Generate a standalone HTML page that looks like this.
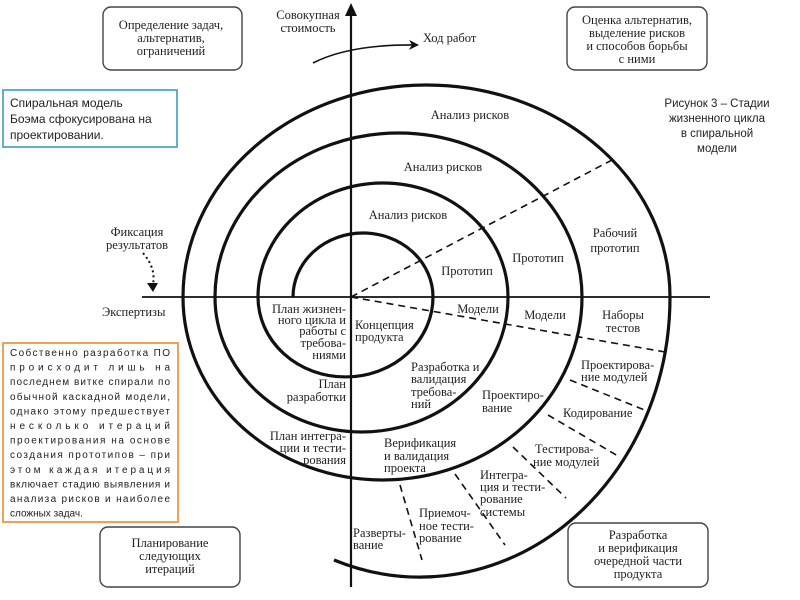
<!DOCTYPE html>
<html><head><meta charset="utf-8"><style>
html,body{margin:0;padding:0;background:#fff;}
svg{display:block;}
.s{font-family:"Liberation Serif","DejaVu Serif",serif;font-size:12.5px;fill:#222;}
.a{font-family:"Liberation Sans","DejaVu Sans",sans-serif;fill:#222;}
</style></head><body>
<svg width="800" height="600" viewBox="0 0 800 600" xmlns="http://www.w3.org/2000/svg">
<defs>
<marker id="ah" markerWidth="10" markerHeight="10" refX="8" refY="5" orient="auto" markerUnits="userSpaceOnUse">
<path d="M0,0 L10,5 L0,10 L3,5 Z" fill="#111"/></marker>
</defs>
<line x1="351" y1="587" x2="351" y2="14" stroke="#111" stroke-width="2.2"/>
<path d="M345,16 L351,3 L357,16 Z" fill="#111"/>
<line x1="142" y1="297" x2="710" y2="297" stroke="#111" stroke-width="1.8"/>
<path d="M293,297 A70,64 0 0 1 433,297 A87.5,80 0 0 1 258,297 A125,114 0 0 1 508,297 A146.5,135 0 0 1 215,297 A183.5,164 0 0 1 582,297 A199.5,183 0 0 1 183,297 A243.5,212 0 0 1 670,297 A250,280 0 0 1 334,560" fill="none" stroke="#111" stroke-width="3.2"/>
<g stroke="#111" stroke-width="1.6" stroke-dasharray="7,5" fill="none">
<line x1="351" y1="297" x2="612" y2="160"/>
<line x1="351" y1="297" x2="665" y2="352"/>
<line x1="570" y1="380" x2="647" y2="411"/>
<line x1="548" y1="415" x2="618" y2="456"/>
<line x1="513" y1="447" x2="566" y2="498"/>
<line x1="455" y1="474" x2="505" y2="545"/>
<line x1="400" y1="485" x2="422" y2="560"/>
</g>
<path d="M313,63 Q350,44 417,45" fill="none" stroke="#111" stroke-width="1.6" marker-end="url(#ah)"/>
<path d="M143,253 Q156,268 153,284" fill="none" stroke="#111" stroke-width="2" stroke-dasharray="2,3"/>
<path d="M147,283 L153,292 L158,283 Z" fill="#111"/>
<g fill="none" stroke="#444" stroke-width="1.4">
<rect x="103" y="7" width="139" height="63" rx="8"/>
<rect x="567" y="7" width="140" height="63" rx="8"/>
<rect x="100" y="527" width="140" height="60" rx="8"/>
<rect x="568" y="523" width="140" height="64" rx="8"/>
</g>
<rect x="3" y="90" width="174" height="57" fill="#fff" stroke="#5fb0c8" stroke-width="2"/>
<rect x="3" y="343" width="175" height="179" fill="#fff" stroke="#f0a058" stroke-width="2"/>
<g class="s" text-anchor="middle">
<text x="171" y="29">Определение задач,</text>
<text x="171" y="42">альтернатив,</text>
<text x="171" y="55">ограничений</text>
<text x="637" y="24">Оценка альтернатив,</text>
<text x="637" y="37">выделение рисков</text>
<text x="637" y="50">и способов борьбы</text>
<text x="637" y="63">с ними</text>
<text x="170" y="547">Планирование</text>
<text x="170" y="560">следующих</text>
<text x="170" y="573">итераций</text>
<text x="638" y="539">Разработка</text>
<text x="638" y="552">и верификация</text>
<text x="638" y="565">очередной части</text>
<text x="638" y="578">продукта</text>
<text x="308" y="19">Совокупная</text>
<text x="308" y="32">стоимость</text>
<text x="137" y="236">Фиксация</text>
<text x="137" y="249">результатов</text>
<text x="470" y="119">Анализ рисков</text>
<text x="443" y="171">Анализ рисков</text>
<text x="408" y="219">Анализ рисков</text>
<text x="467" y="275">Прототип</text>
<text x="538" y="262">Прототип</text>
<text x="615" y="237">Рабочий</text>
<text x="615" y="252">прототип</text>
<text x="478" y="313">Модели</text>
<text x="545" y="319">Модели</text>
<text x="623" y="319">Наборы</text>
<text x="623" y="332">тестов</text>
</g>
<g class="s">
<text x="423" y="42">Ход работ</text>
<text x="102" y="316">Экспертизы</text>
<text x="355" y="329">Концепция</text>
<text x="355" y="341">продукта</text>
<text x="411" y="371">Разработка и</text>
<text x="411" y="383">валидация</text>
<text x="411" y="396">требова-</text>
<text x="411" y="408">ний</text>
<text x="482" y="399">Проектиро-</text>
<text x="482" y="412">вание</text>
<text x="384" y="447">Верификация</text>
<text x="384" y="460">и валидация</text>
<text x="384" y="472">проекта</text>
<text x="581" y="369">Проектирова-</text>
<text x="581" y="381">ние модулей</text>
<text x="563" y="417">Кодирование</text>
<text x="535" y="453">Тестирова-</text>
<text x="533" y="466">ние модулей</text>
<text x="480" y="479">Интегра-</text>
<text x="480" y="491">ция и тести-</text>
<text x="480" y="503">рование</text>
<text x="480" y="516">системы</text>
<text x="419" y="517">Приемоч-</text>
<text x="419" y="530">ное тести-</text>
<text x="419" y="542">рование</text>
<text x="353" y="537">Разверты-</text>
<text x="353" y="549">вание</text>
</g>
<g class="s" text-anchor="end">
<text x="346" y="313">План жизнен-</text>
<text x="346" y="324">ного цикла и</text>
<text x="346" y="335">работы с</text>
<text x="346" y="347">требова-</text>
<text x="346" y="359">ниями</text>
<text x="346" y="388">План</text>
<text x="346" y="401">разработки</text>
<text x="346" y="440">План интегра-</text>
<text x="346" y="452">ции и тести-</text>
<text x="346" y="464">рования</text>
</g>
<g class="a" font-size="12">
<text x="10" y="107">Спиральная модель</text>
<text x="10" y="123">Боэма сфокусирована на</text>
<text x="10" y="139">проектировании.</text>
</g>
<g class="a" font-size="11.5" text-anchor="middle">
<text x="717" y="107">Рисунок 3 – Стадии</text>
<text x="717" y="122">жизненного цикла</text>
<text x="717" y="137">в спиральной</text>
<text x="717" y="152">модели</text>
</g>
<g class="a" font-size="10">
<text x="10" y="356" textLength="160" lengthAdjust="spacing">Собственно разработка ПО</text>
<text x="10" y="370.6" textLength="160" lengthAdjust="spacing">происходит лишь на</text>
<text x="10" y="385.2" textLength="160" lengthAdjust="spacing">последнем витке спирали по</text>
<text x="10" y="399.8" textLength="160" lengthAdjust="spacing">обычной каскадной модели,</text>
<text x="10" y="414.4" textLength="160" lengthAdjust="spacing">однако этому предшествует</text>
<text x="10" y="429" textLength="160" lengthAdjust="spacing">несколько итераций</text>
<text x="10" y="443.6" textLength="160" lengthAdjust="spacing">проектирования на основе</text>
<text x="10" y="458.2" textLength="160" lengthAdjust="spacing">создания прототипов – при</text>
<text x="10" y="472.8" textLength="160" lengthAdjust="spacing">этом каждая итерация</text>
<text x="10" y="487.4" textLength="160" lengthAdjust="spacing">включает стадию выявления и</text>
<text x="10" y="502" textLength="160" lengthAdjust="spacing">анализа рисков и наиболее</text>
<text x="10" y="516.6">сложных задач.</text>
</g>
</svg>
</body></html>
